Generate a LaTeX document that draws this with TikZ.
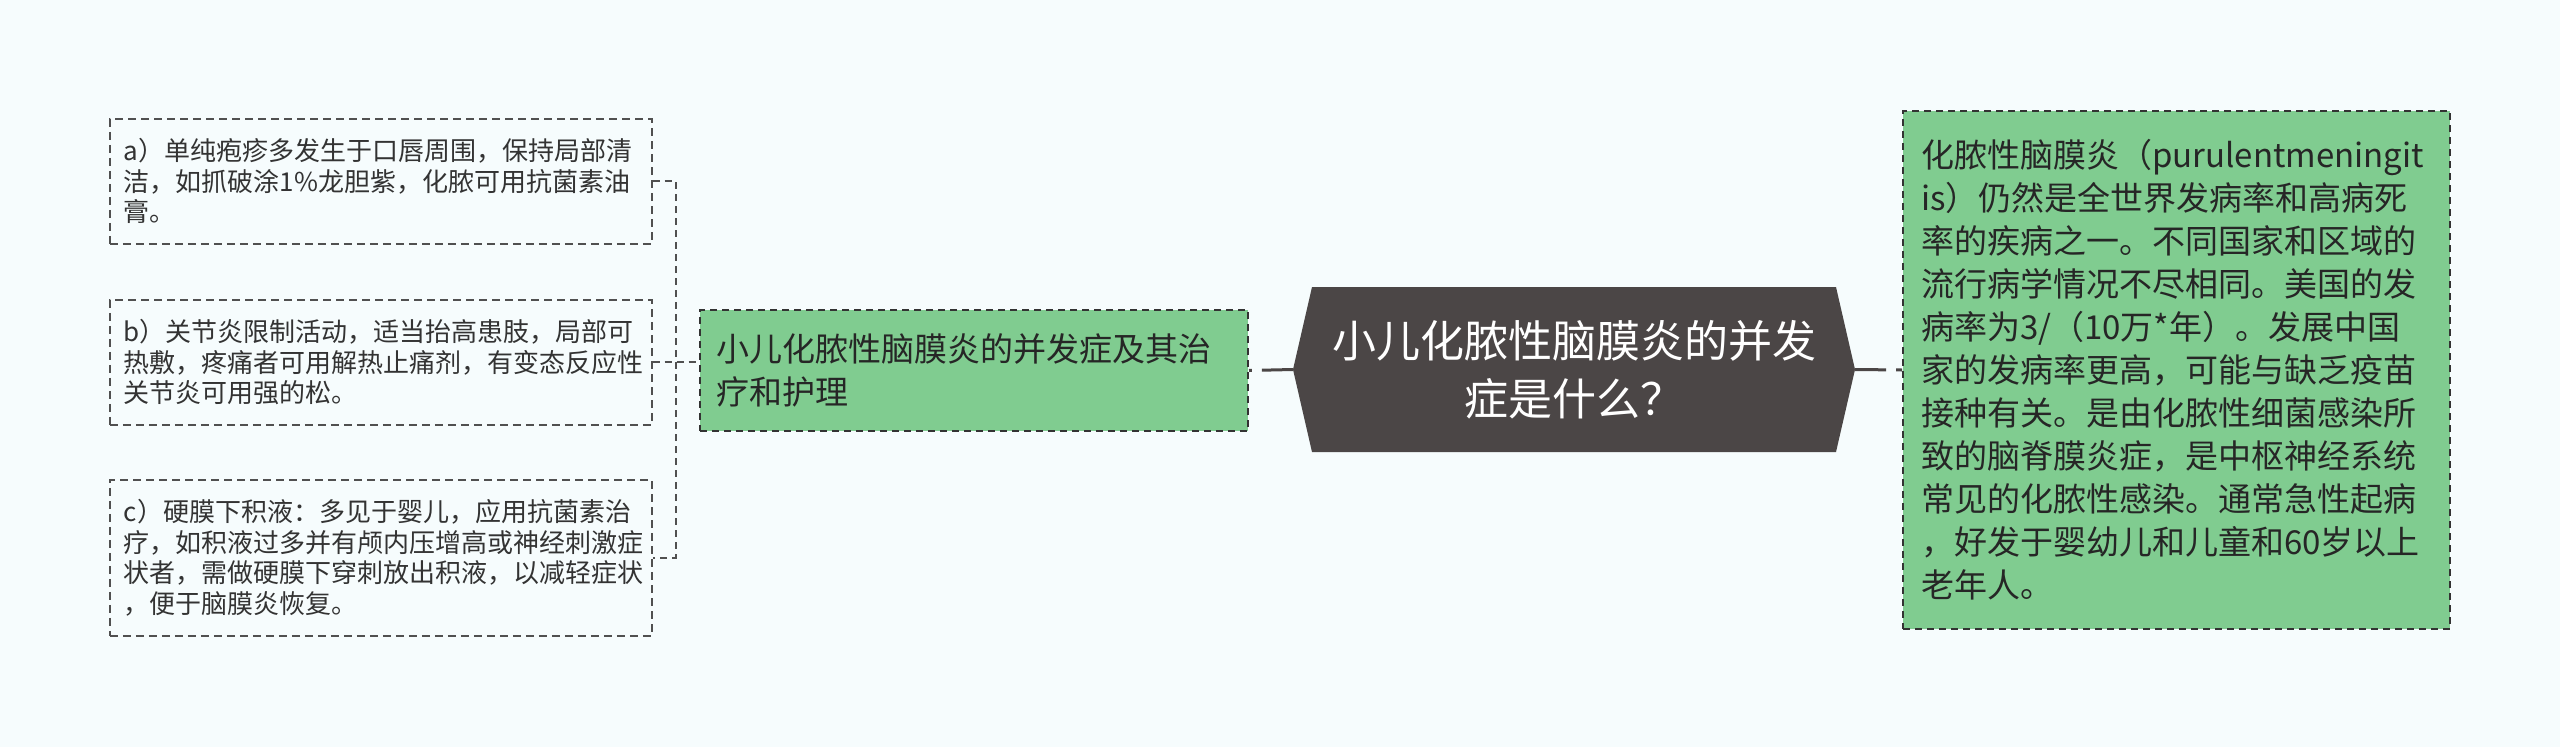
\documentclass[tikz,border=0pt]{standalone}
\usepackage{fontspec}
\newfontfamily\cjk{Noto Sans CJK SC}
\definecolor{pagebg}{RGB}{246,252,253}
\definecolor{leafgreen}{RGB}{128,204,144}
\definecolor{rootgray}{RGB}{75,70,70}
\definecolor{edgegray}{RGB}{80,80,80}
\definecolor{inkgray}{RGB}{51,51,51}

\def \leafWidth {514pt}
\def \greenWidth {516pt}

\tikzset{
  leaf/.style={draw=edgegray, line width=1.5pt, dash pattern=on 8pt off 5pt,
    text=inkgray, font=\cjk\fontsize{26}{30.5}\selectfont, align=left,
    text width=\leafWidth, inner xsep=14pt, inner ysep=0pt, anchor=north west},
  topic/.style={draw=black!80, line width=2pt, dash pattern=on 7pt off 5pt,
    fill=leafgreen, text=black!85, font=\cjk\fontsize{33}{43}\selectfont, align=left,
    inner ysep=0pt, anchor=north west},
  root/.style={text=white, font=\cjk\fontsize{44}{58}\selectfont, align=center,
    text width=500pt, minimum width=562pt, minimum height=165pt, inner sep=0pt,
    path picture={\fill[rootgray] (path picture bounding box.west)
      -- ([xshift=19pt]path picture bounding box.north west)
      -- ([xshift=-19pt]path picture bounding box.north east)
      -- (path picture bounding box.east)
      -- ([xshift=-19pt]path picture bounding box.south east)
      -- ([xshift=19pt]path picture bounding box.south west) -- cycle;}},
  trunk/.style={draw=rootgray, line width=3pt, dash pattern=on 31pt off 10pt on 20pt off 0pt},
  twig/.style={draw=edgegray, line width=2pt, dash pattern=on 7pt off 5pt}
}

\begin{document}
\begin{tikzpicture}[x=1pt, y=-1pt]
  \fill[pagebg] (0,0) rectangle (2560,747);

  \node[root] (question) at (1574,369.5) {小儿化脓性脑膜炎的并发\\症是什么？};

  \node[topic, text width=\greenWidth, inner xsep=16pt, minimum height=121pt] (care) at (699,309)
    {小儿化脓性脑膜炎的并发症及其治\\疗和护理};

  \node[topic, text width=511pt, inner xsep=18pt, minimum height=518pt] (intro) at (1902,110)
    {化脓性脑膜炎（purulentmeningit\\is）仍然是全世界发病率和高病死\\率的疾病之一。不同国家和区域的\\流行病学情况不尽相同。美国的发\\病率为3/（10万*年）。发展中国\\家的发病率更高，可能与缺乏疫苗\\接种有关。是由化脓性细菌感染所\\致的脑脊膜炎症，是中枢神经系统\\常见的化脓性感染。通常急性起病\\，好发于婴幼儿和儿童和60岁以上\\老年人。};

  \node[leaf, minimum height=125pt] (herpes) at (109,118)
    {a）单纯疱疹多发生于口唇周围，保持局部清\\洁，如抓破涂1\%龙胆紫，化脓可用抗菌素油\\膏。};
  \node[leaf, minimum height=125pt] (joint) at (109,299)
    {b）关节炎限制活动，适当抬高患肢，局部可\\热敷，疼痛者可用解热止痛剂，有变态反应性\\关节炎可用强的松。};
  \node[leaf, minimum height=156pt] (effusion) at (109,479)
    {c）硬膜下积液：多见于婴儿，应用抗菌素治\\疗，如积液过多并有颅内压增高或神经刺激症\\状者，需做硬膜下穿刺放出积液，以减轻症状\\，便于脑膜炎恢复。};

  \draw[trunk] (question.west) -- (care.east);
  \draw[trunk] (question.east) -- (intro.west);
  \draw[twig] (joint.east) -- (joint.east -| care.west);
  \draw[twig] (herpes.east) -- ++(23,0) |- (effusion.east);
\end{tikzpicture}
\end{document}
